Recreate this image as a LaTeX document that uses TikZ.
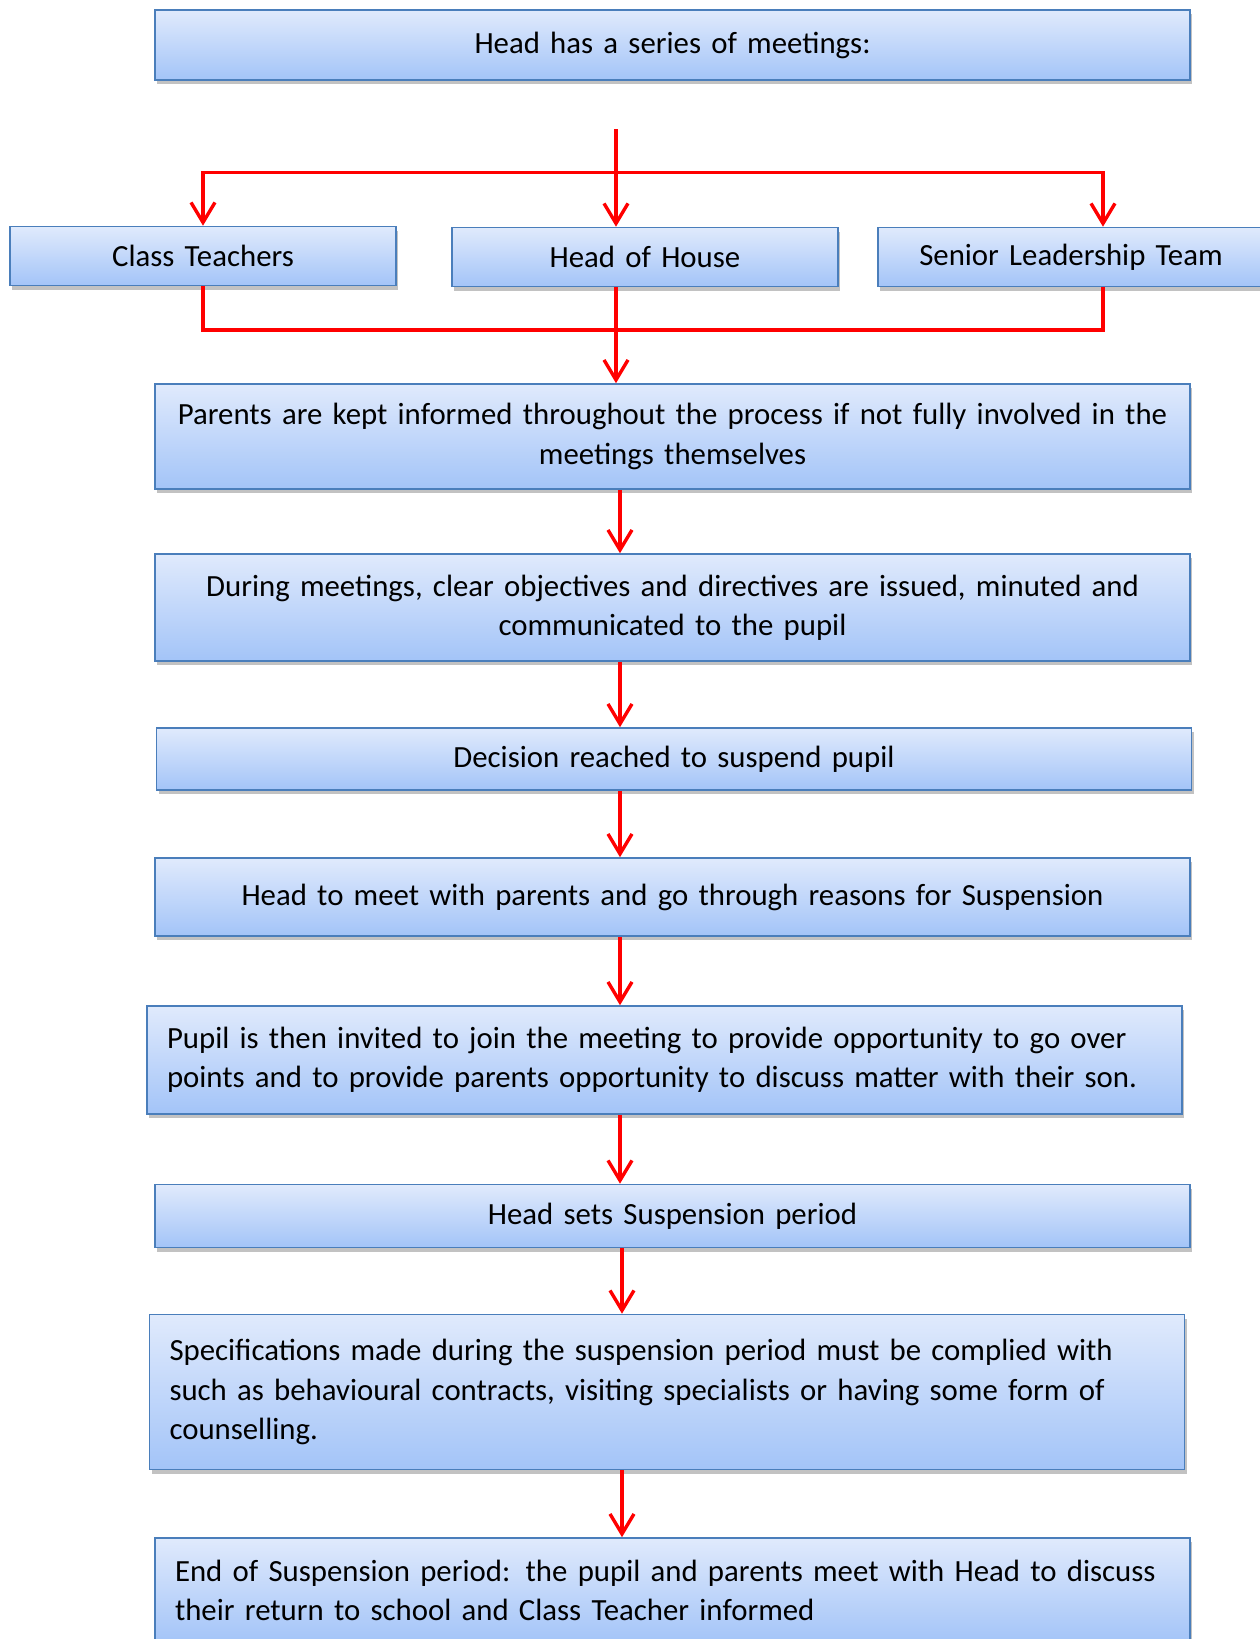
\documentclass[tikz,border=0pt]{standalone}
\usepackage{fontspec}
\setmainfont{Carlito}
\usepackage{tikz}
\usetikzlibrary{arrows.meta,shadows}

\definecolor{boxtop}{HTML}{E0EAFC}
\definecolor{boxbot}{HTML}{A3C4F8}
\definecolor{boxline}{HTML}{4A7EBB}

\begin{document}
\begin{tikzpicture}[x=0.5pt, y=-0.5pt]
  \tikzset{
    flow box/.style={draw=boxline, line width=0.8pt, top color=boxtop, bottom color=boxbot,
      drop shadow={shadow xshift=1pt, shadow yshift=-2pt, opacity=0.4, fill=black!60},
      font=\fontsize{15.4}{19.6}\selectfont, inner xsep=10pt, inner ysep=0pt},
    wide box/.style={flow box, minimum width=517.5pt, text width=497.5pt, align=center},
    left box/.style={wide box, align=left},
    small box/.style={flow box, minimum width=193pt, text width=173pt, align=center, minimum height=29.5pt},
    red line/.style={red, line width=1.7pt},
    red arrow/.style={red line, -{Straight Barb[length=10pt,width=12pt]}},
  }
  \useasboundingbox (0,0) rectangle (1259,1639);

  % boxes
  \node[wide box, minimum height=35pt] (meet) at (672.5,45) {Head has a series of meetings:};
  \node[small box] (ct)  at (203,256)  {Class Teachers};
  \node[small box] (hoh) at (645,257)  {Head of House};
  \node[small box] (slt) at (1071,257) {Senior Leadership Team};
  \node[wide box, minimum height=52.5pt] (parents) at (672.5,436.5)
    {Parents are kept informed throughout the process if not fully involved in the\\ meetings themselves};
  \node[wide box, minimum height=53.5pt] (during) at (672.5,607.5)
    {During meetings, clear objectives and directives are issued, minuted and\\ communicated to the pupil};
  \node[wide box, minimum height=31pt] (decision) at (674,759) {Decision reached to suspend pupil};
  \node[wide box, minimum height=39pt] (headmeet) at (672.5,897)
    {Head to meet with parents and go through reasons for Suspension};
  \node[left box, minimum height=54pt] (pupil) at (664.5,1060)
    {Pupil is then invited to join the meeting to provide opportunity to go over\\ points and to provide parents opportunity to discuss matter with their son.};
  \node[wide box, minimum height=31.5pt] (sets) at (672.5,1216) {Head sets Suspension period};
  \node[left box, minimum height=77.5pt] (spec) at (667,1392)
    {Specifications made during the suspension period must be complied with\\ such as behavioural contracts, visiting specialists or having some form of\\ counselling.\\[-2pt]};
  \node[left box, minimum height=52.5pt] (end) at (672.5,1590.5)
    {End of Suspension period: the pupil and parents meet with Head to discuss\\ their return to school and Class Teacher informed};

  % fork to the three meetings
  \coordinate (fork) at (616,129);
  \coordinate (bar)  at (616,172.5);
  \coordinate (join) at (616,330);
  \draw[red arrow] (fork) -- (fork |- hoh.north);
  \draw[red arrow] (bar) -| (ct.north);
  \draw[red arrow] (bar) -| ([xshift=16pt]slt.north);
  \draw[red line] (ct.south) |- (join) -| ([xshift=16pt]slt.south);
  \draw[red line] (fork |- hoh.south) -- (join);
  \draw[red arrow] (join) -- (join |- parents.north);

  % main chain
  \coordinate (axis) at (620,0);
  \foreach \a/\b in {parents/during, during/decision, decision/headmeet, headmeet/pupil, pupil/sets}
    \draw[red arrow] (axis |- \a.south) -- (axis |- \b.north);
  \coordinate (axisb) at (622,0);
  \foreach \a/\b in {sets/spec, spec/end}
    \draw[red arrow] (axisb |- \a.south) -- (axisb |- \b.north);
\end{tikzpicture}
\end{document}
